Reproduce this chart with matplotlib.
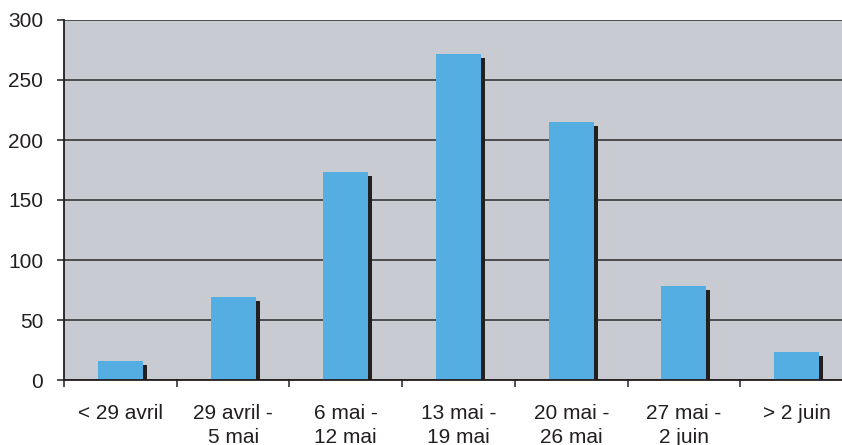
import numpy
import matplotlib
matplotlib.use("Agg")
import matplotlib.pyplot
import matplotlib.transforms

matplotlib.rcParams["font.family"] = ["Liberation Sans", "DejaVu Sans"]

categories = ["< 29 avril", "29 avril -\n5 mai", "6 mai -\n12 mai", "13 mai -\n19 mai",
              "20 mai -\n26 mai", "27 mai -\n2 juin", "> 2 juin"]
values = [16, 69, 173, 272, 215, 78, 23]
y_ticks = [0, 50, 100, 150, 200, 250, 300]

text_colour = "#231F20"
figure = matplotlib.pyplot.figure(figsize=(8.42, 4.45), dpi=100)
axis = figure.add_axes([64 / 842, 65 / 445, 789 / 842, 360 / 445])
axis.set_facecolor("#C9CBD3")

x = numpy.arange(len(categories))

# dark drop shadow: same bars shifted 4 px right and 4 px down
shadow_offset = matplotlib.transforms.ScaledTranslation(4 / 100, -4 / 100, figure.dpi_scale_trans)
axis.bar(x, values, width=0.4, color=text_colour, zorder=3,
         transform=axis.transData + shadow_offset)
axis.bar(x, values, width=0.4, color="#55AEE1", zorder=4)

axis.set_xlim(-0.5, len(categories) - 0.5)
axis.set_ylim(0, 300)
axis.set_yticks(y_ticks)
axis.yaxis.grid(True, color="#2A2A2A", linewidth=1.1, zorder=2)
axis.set_axisbelow(True)

axis.set_xticks(x)
axis.set_xticklabels(categories, linespacing=1.3)
axis.set_xticks(numpy.arange(-0.5, len(categories)), minor=True)
axis.tick_params(axis="x", which="major", length=0, pad=17.5, labelsize=15, labelcolor=text_colour)
axis.tick_params(axis="x", which="minor", length=5, width=1.1, color=text_colour)
axis.tick_params(axis="y", length=5, width=1.1, pad=10, labelsize=15, labelcolor=text_colour, color=text_colour)

for side in ["top", "right"]:
    axis.spines[side].set_visible(False)
for side in ["left", "bottom"]:
    axis.spines[side].set_color(text_colour)
    axis.spines[side].set_linewidth(1.3)
axis.spines["bottom"].set_zorder(5)

figure.savefig("out.png", dpi=100)
